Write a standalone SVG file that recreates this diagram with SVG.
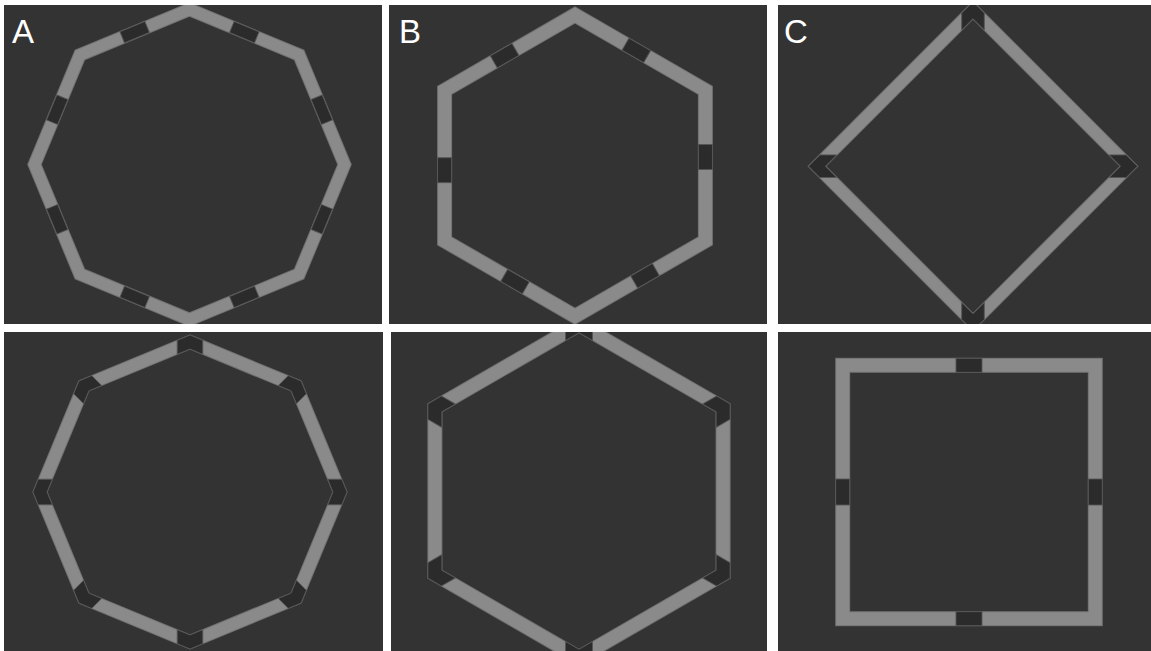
<svg xmlns="http://www.w3.org/2000/svg" xmlns:xlink="http://www.w3.org/1999/xlink" width="1151" height="651" viewBox="0 0 1151 651">
<style>
.panel{fill:#333333}
.edge{fill:none;stroke:#727272;stroke-linejoin:miter}
.band{fill:none;stroke:#8a8a8a;stroke-linejoin:miter}
.tile{fill:#2b2b2b;stroke:#565656;stroke-width:0.9}
.lbl{font-family:"Liberation Sans",Arial,sans-serif;font-size:33px;fill:#ffffff}
</style>
<defs>
<clipPath id="cA1"><rect x="4" y="5" width="378" height="319"/></clipPath>
<clipPath id="cB1"><rect x="389" y="5" width="378" height="319"/></clipPath>
<clipPath id="cC1"><rect x="778" y="5" width="373" height="319"/></clipPath>
<clipPath id="cA2"><rect x="4" y="332" width="379" height="319"/></clipPath>
<clipPath id="cB2"><rect x="391" y="332" width="376" height="319"/></clipPath>
<clipPath id="cC2"><rect x="778" y="332" width="373" height="319"/></clipPath>
<rect id="tA" class="tile" x="-13.5" y="-6" width="27" height="12"/>
<rect id="tB" class="tile" x="-12.5" y="-7" width="25" height="14"/>
<rect id="tC" class="tile" x="-13" y="-7" width="26" height="14"/>
<path id="chO" class="tile" d="M7.04,0 L1.74,12.8 L-12.34,12.8 L-7.04,0 L-12.34,-12.8 L1.74,-12.8 Z"/>
<path id="chH" class="tile" d="M8.08,0 L0.29,13.5 L-15.87,13.5 L-8.08,0 L-15.87,-13.5 L0.29,-13.5 Z"/>
<path id="chD" class="tile" d="M8.49,0 L-2.81,11.3 L-19.79,11.3 L-8.49,0 L-19.79,-11.3 L-2.81,-11.3 Z"/>
</defs>
<rect width="1151" height="651" fill="#ffffff"/>

<g id="panelA1" clip-path="url(#cA1)">
<rect class="panel" x="4" y="5" width="378" height="319"/>
<polygon class="edge" stroke-width="13.5" points="189.5,9.5 299.1,54.9 344.5,164.5 299.1,274.1 189.5,319.5 79.9,274.1 34.5,164.5 79.9,54.9"/>
<polygon class="band" stroke-width="11.5" points="189.5,9.5 299.1,54.9 344.5,164.5 299.1,274.1 189.5,319.5 79.9,274.1 34.5,164.5 79.9,54.9"/>
<use xlink:href="#tA" href="#tA" transform="translate(244.3,32.2) rotate(22.5)"/>
<use xlink:href="#tA" href="#tA" transform="translate(321.8,109.7) rotate(67.5)"/>
<use xlink:href="#tA" href="#tA" transform="translate(321.8,219.3) rotate(112.5)"/>
<use xlink:href="#tA" href="#tA" transform="translate(244.3,296.8) rotate(157.5)"/>
<use xlink:href="#tA" href="#tA" transform="translate(134.7,296.8) rotate(22.5)"/>
<use xlink:href="#tA" href="#tA" transform="translate(57.2,219.3) rotate(67.5)"/>
<use xlink:href="#tA" href="#tA" transform="translate(57.2,109.7) rotate(112.5)"/>
<use xlink:href="#tA" href="#tA" transform="translate(134.7,32.2) rotate(-22.5)"/>
<text class="lbl" x="12" y="43.3">A</text>
</g>

<g id="panelB1" clip-path="url(#cB1)">
<rect class="panel" x="389" y="5" width="378" height="319"/>
<polygon class="edge" stroke-width="15" points="575,15 705.4,90.3 705.4,240.9 575,316.2 444.6,240.9 444.6,90.3"/>
<polygon class="band" stroke-width="13" points="575,15 705.4,90.3 705.4,240.9 575,316.2 444.6,240.9 444.6,90.3"/>
<use xlink:href="#tB" href="#tB" transform="translate(504.6,55.6) rotate(-30)"/>
<use xlink:href="#tB" href="#tB" transform="translate(636.3,50.4) rotate(30)"/>
<use xlink:href="#tB" href="#tB" transform="translate(705.4,157) rotate(90)"/>
<use xlink:href="#tB" href="#tB" transform="translate(645,275.8) rotate(-30)"/>
<use xlink:href="#tB" href="#tB" transform="translate(515,281.6) rotate(30)"/>
<use xlink:href="#tB" href="#tB" transform="translate(444.6,170.2) rotate(90)"/>
<text class="lbl" x="399" y="43.3">B</text>
</g>

<g id="panelC1" clip-path="url(#cC1)">
<rect class="panel" x="778" y="5" width="373" height="319"/>
<polygon class="edge" stroke-width="13.5" points="973,10.2 1129,166.2 973,322.2 817,166.2"/>
<polygon class="band" stroke-width="11.5" points="973,10.2 1129,166.2 973,322.2 817,166.2"/>
<use xlink:href="#chD" href="#chD" transform="translate(973,10.2) rotate(-90)"/>
<use xlink:href="#chD" href="#chD" transform="translate(1129,166.2) rotate(0)"/>
<use xlink:href="#chD" href="#chD" transform="translate(973,322.2) rotate(90)"/>
<use xlink:href="#chD" href="#chD" transform="translate(817,166.2) rotate(180)"/>
<text class="lbl" x="784" y="43.3">C</text>
</g>

<g id="panelA2" clip-path="url(#cA2)">
<rect class="panel" x="4" y="332" width="379" height="319"/>
<polygon class="edge" stroke-width="14" points="190,342 296.1,385.9 340,492 296.1,598.1 190,642 83.9,598.1 40,492 83.9,385.9"/>
<polygon class="band" stroke-width="12" points="190,342 296.1,385.9 340,492 296.1,598.1 190,642 83.9,598.1 40,492 83.9,385.9"/>
<use xlink:href="#chO" href="#chO" transform="translate(190,342) rotate(-90)"/>
<use xlink:href="#chO" href="#chO" transform="translate(296.1,385.9) rotate(-45)"/>
<use xlink:href="#chO" href="#chO" transform="translate(340,492) rotate(0)"/>
<use xlink:href="#chO" href="#chO" transform="translate(296.1,598.1) rotate(45)"/>
<use xlink:href="#chO" href="#chO" transform="translate(190,642) rotate(90)"/>
<use xlink:href="#chO" href="#chO" transform="translate(83.9,598.1) rotate(135)"/>
<use xlink:href="#chO" href="#chO" transform="translate(40,492) rotate(180)"/>
<use xlink:href="#chO" href="#chO" transform="translate(83.9,385.9) rotate(225)"/>
</g>

<g id="panelB2" clip-path="url(#cB2)">
<rect class="panel" x="391" y="332" width="376" height="319"/>
<polygon class="edge" stroke-width="15" points="579,324.6 723.1,407.8 723.1,574.2 579,657.4 434.9,574.2 434.9,407.8"/>
<polygon class="band" stroke-width="13" points="579,324.6 723.1,407.8 723.1,574.2 579,657.4 434.9,574.2 434.9,407.8"/>
<use xlink:href="#chH" href="#chH" transform="translate(579,324.6) rotate(-90)"/>
<use xlink:href="#chH" href="#chH" transform="translate(723.1,407.8) rotate(-30)"/>
<use xlink:href="#chH" href="#chH" transform="translate(723.1,574.2) rotate(30)"/>
<use xlink:href="#chH" href="#chH" transform="translate(579,657.4) rotate(90)"/>
<use xlink:href="#chH" href="#chH" transform="translate(434.9,574.2) rotate(150)"/>
<use xlink:href="#chH" href="#chH" transform="translate(434.9,407.8) rotate(210)"/>
</g>

<g id="panelC2" clip-path="url(#cC2)">
<rect class="panel" x="778" y="332" width="373" height="319"/>
<rect class="edge" stroke-width="15" x="842.7" y="365.3" width="252.6" height="253.4"/>
<rect class="band" stroke-width="13" x="842.7" y="365.3" width="252.6" height="253.4"/>
<use xlink:href="#tC" href="#tC" transform="translate(969,365.3)"/>
<use xlink:href="#tC" href="#tC" transform="translate(1095.3,492) rotate(90)"/>
<use xlink:href="#tC" href="#tC" transform="translate(969,618.7)"/>
<use xlink:href="#tC" href="#tC" transform="translate(842.7,492) rotate(90)"/>
</g>

<g id="connectors"></g>
</svg>
